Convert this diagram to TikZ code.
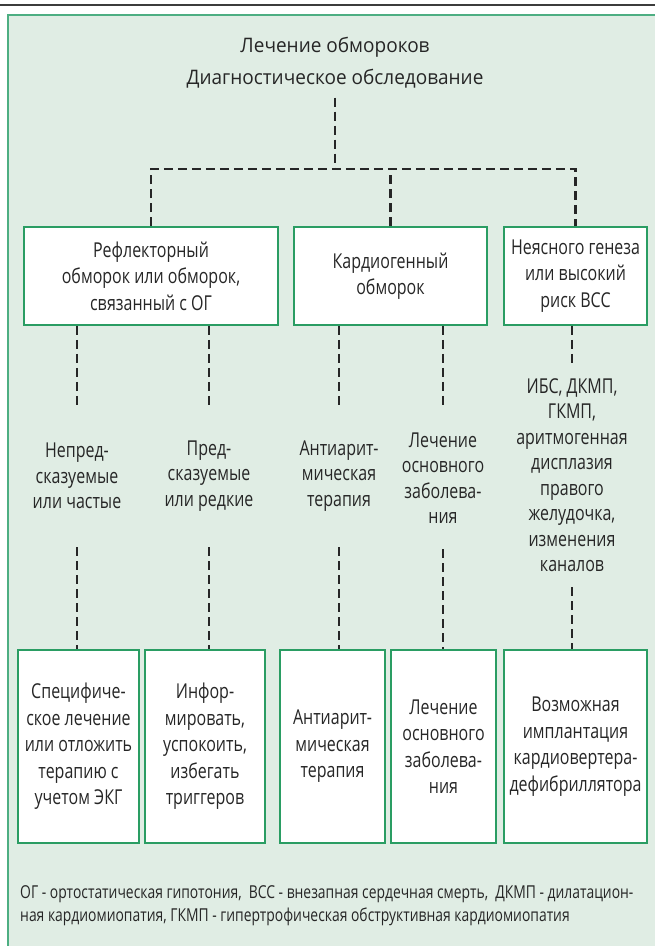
\documentclass[tikz,border=0pt]{standalone}
\usepackage{fontspec}
\setmainfont{Open Sans}
\newfontfamily\condfont{Open Sans}[FakeStretch=0.78]
\newfontfamily\titlefont{Open Sans}[FakeStretch=0.95]
\usetikzlibrary{calc}
\definecolor{panelfill}{HTML}{E0EDE4}
\definecolor{panelline}{HTML}{4DAE82}
\definecolor{boxline}{HTML}{2A9D63}
\definecolor{ink}{HTML}{262626}
\begin{document}
\begin{tikzpicture}[x=1pt,y=-1pt,
  every node/.style={text=ink},
  titletext/.style={align=center, inner sep=0pt, font=\titlefont\fontsize{20}{24}\selectfont},
  box/.style={draw=boxline, line width=1.6pt, fill=white, align=center, inner sep=0pt,
    font=\condfont\fontsize{20.5}{26.5}\selectfont},
  lab/.style={align=center, inner sep=0pt, font=\condfont\fontsize{20.5}{25.5}\selectfont},
  legendtext/.style={anchor=west, inner sep=0pt, font=\condfont\fontsize{17.8}{20}\selectfont},
  dashline/.style={draw=ink, line width=2.8pt, dash pattern=on 9pt off 5pt},
]
\useasboundingbox (0,0) rectangle (655,946);
% frame
\fill[white] (0,0) rectangle (655,946);
\fill[panelfill] (8,15) rectangle (656,947);
\draw[panelline, line width=1.6pt] (8,947) -- (8,15) -- (656,15);
\draw[ink!90, line width=2pt] (0,5) -- (655,5);

% titles
\node[titletext] (t1) at (335,47) {Лечение обмороков};
\node[titletext] (diag) at (335,79) {Диагностическое обследование};
\coordinate (hub) at (335,169);

% upper boxes
\node[box, minimum width=254pt, minimum height=98pt] (A) at (151,276)
  {Рефлекторный\\обморок или обморок,\\связанный с ОГ};
\node[box, minimum width=193pt, minimum height=98pt] (B) at (390.5,276)
  {Кардиогенный\\обморок};
\node[box, minimum width=143pt, minimum height=98pt] (C) at (575.5,276)
  {Неясного генеза\\или высокий\\риск ВСС};

% labels
\node[lab, minimum height=142pt] (l1) at (77,476) {Непред-\\сказуемые\\или частые};
\node[lab, minimum height=142pt] (l2) at (209,476) {Пред-\\сказуемые\\или редкие};
\node[lab, minimum height=142pt] (l3) at (339,476) {Антиарит-\\мическая\\терапия};
\node[lab, minimum height=142pt] (l4) at (443,478) {Лечение\\основного\\заболева-\\ния};
\node[lab, minimum height=224pt] (l5) at (572,475)
  {ИБС, ДКМП,\\ГКМП,\\аритмогенная\\дисплазия\\правого\\желудочка,\\изменения\\каналов};

% lower boxes
\node[box, minimum width=121pt, minimum height=193pt] (b1) at (78.5,746.5)
  {Специфиче-\\ское лечение\\или отложить\\терапию с\\учетом ЭКГ};
\node[box, minimum width=120pt, minimum height=193pt] (b2) at (205,746.5)
  {Инфор-\\мировать,\\успокоить,\\избегать\\триггеров};
\node[box, minimum width=105pt, minimum height=193pt] (b3) at (332.5,746.5)
  {Антиарит-\\мическая\\терапия};
\node[box, minimum width=105pt, minimum height=193pt] (b4) at (443.5,746.5)
  {Лечение\\основного\\заболева-\\ния};
\node[box, minimum width=143pt, minimum height=193pt] (b5) at (575.5,746.5)
  {Возможная\\имплантация\\кардиовертера-\\дефибриллятора};

% connectors
\draw[dashline, shorten <=9pt] (diag.south) -- (hub);
\draw[dashline] (A.north) |- (hub) -| (C.north);
\draw[dashline] (B.north) -- (B.north |- hub);

\draw[dashline] (l1.north |- A.south) -- (l1.north);
\draw[dashline] (l2.north |- A.south) -- (l2.north);
\draw[dashline] (l3.north |- B.south) -- (l3.north);
\draw[dashline] (l4.north |- B.south) -- (l4.north);
\draw[dashline] (l5.north |- C.south) -- (l5.north);

\draw[dashline] (l1.south) -- (l1.south |- b1.north);
\draw[dashline] (l2.south) -- (l2.south |- b2.north);
\draw[dashline] (l3.south) -- (l3.south |- b3.north);
\draw[dashline] (l4.south) -- (l4.south |- b4.north);
\draw[dashline] (l5.south) -- (l5.south |- b5.north);

% legend
\node[legendtext] (leg1) at (20,894)
  {ОГ - ортостатическая гипотония,\ \ ВСС - внезапная сердечная смерть,\ \ ДКМП - дилатацион-};
\node[legendtext] (leg2) at (20,917)
  {ная кардиомиопатия, ГКМП - гипертрофическая обструктивная кардиомиопатия};
\end{tikzpicture}
\end{document}
